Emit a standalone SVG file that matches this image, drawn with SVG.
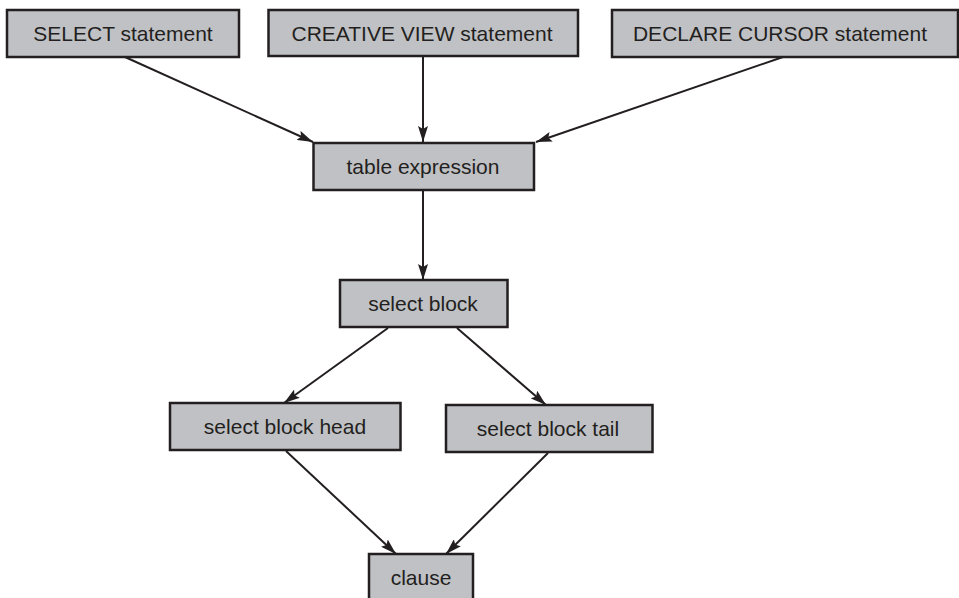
<svg xmlns="http://www.w3.org/2000/svg" width="959" height="598" viewBox="0 0 959 598">
  <defs>
    <style>
      .box { fill: #c0c1c4; stroke: #231f20; stroke-width: 2.5; }
      .lbl { font-family: "Liberation Sans", Arial, sans-serif; font-size: 21px; fill: #231f20; text-anchor: middle; }
      .edge { fill: none; stroke: #231f20; stroke-width: 2; marker-end: url(#arrow); }
    </style>
    <marker id="arrow" viewBox="0 0 16 10" refX="16" refY="5" markerWidth="16" markerHeight="10" markerUnits="userSpaceOnUse" orient="auto">
      <path d="M0,0 L16,5 L0,10 L3,5 Z" fill="#231f20"/>
    </marker>
  </defs>
  <rect width="959" height="598" fill="#ffffff"/>

  <g id="connectors">
    <line class="edge" x1="125" y1="57" x2="313" y2="142"/>
    <line class="edge" x1="423" y1="57" x2="423" y2="142"/>
    <line class="edge" x1="783" y1="57" x2="536" y2="142"/>
    <line class="edge" x1="423" y1="191" x2="423" y2="280"/>
    <line class="edge" x1="388" y1="328" x2="284" y2="403"/>
    <line class="edge" x1="457" y1="328" x2="546" y2="405"/>
    <line class="edge" x1="286" y1="451" x2="396" y2="554"/>
    <line class="edge" x1="548" y1="453" x2="446" y2="554"/>
  </g>

  <g id="select-statement">
    <rect class="box" x="7" y="10" width="232" height="47"/>
    <text class="lbl" x="123" y="41">SELECT statement</text>
  </g>
  <g id="creative-view-statement">
    <rect class="box" x="268.5" y="10" width="309.5" height="46"/>
    <text class="lbl" x="422" y="41">CREATIVE VIEW statement</text>
  </g>
  <g id="declare-cursor-statement">
    <rect class="box" x="612" y="10" width="346" height="47"/>
    <text class="lbl" x="780" y="41">DECLARE CURSOR statement</text>
  </g>
  <g id="table-expression">
    <rect class="box" x="313.5" y="143" width="220.5" height="47"/>
    <text class="lbl" x="423" y="174">table expression</text>
  </g>
  <g id="select-block">
    <rect class="box" x="340" y="280" width="167.5" height="47"/>
    <text class="lbl" x="423" y="311">select block</text>
  </g>
  <g id="select-block-head">
    <rect class="box" x="170" y="403" width="230.5" height="47"/>
    <text class="lbl" x="285" y="434">select block head</text>
  </g>
  <g id="select-block-tail">
    <rect class="box" x="446" y="405" width="206.5" height="47"/>
    <text class="lbl" x="548" y="436">select block tail</text>
  </g>
  <g id="clause">
    <rect class="box" x="369" y="554" width="104" height="50"/>
    <text class="lbl" x="421" y="585">clause</text>
  </g>
</svg>
